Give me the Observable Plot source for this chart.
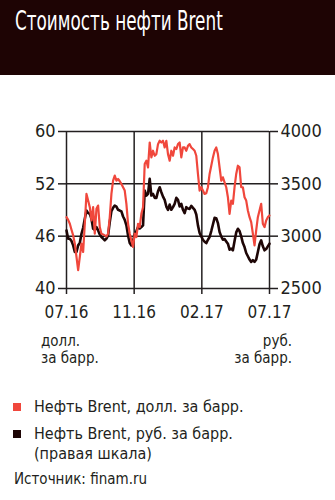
<!DOCTYPE html>
<html>
<head>
<meta charset="utf-8">
<script src="https://cdn.jsdelivr.net/npm/d3@7"></script>
<script src="https://cdn.jsdelivr.net/npm/@observablehq/plot@0.6"></script>
<style>
  html, body { margin: 0; padding: 0; background: #fff; }
  body { width: 335px; height: 500px; overflow: hidden; position: relative;
         font-family: "DejaVu Sans Condensed", "DejaVu Sans", sans-serif; font-stretch: condensed; color: #231f20; }
  #head { height: 75px; background: #1e0404; position: relative; }
  #head h1 { margin: 0; position: absolute; left: 15px; top: 8px; font-size: 26px; line-height: 26px; font-weight: normal; color: #fff;
             white-space: nowrap; transform: scaleX(0.72); transform-origin: 0 0; }
  #chart { position: absolute; left: 0; top: 75px; }
  .unit { position: absolute; font-size: 15px; line-height: 18px; color: #231f20; white-space: nowrap; }
  .leg { position: absolute; left: 13px; font-size: 16px; line-height: 20px; }
  .sw { position: absolute; left: 0; width: 8px; height: 8px; }
  .leg span.t { position: absolute; left: 21px; white-space: nowrap; }
  #src { position: absolute; left: 14px; top: 470px; font-size: 15px; }
</style>
</head>
<body>
<div id="head"><h1>Стоимость нефти Brent</h1></div>
<div id="chart"></div>
<div class="unit" style="left:41px;top:332px;">долл.</div>
<div class="unit" style="left:41px;top:349px;">за барр.</div>
<div class="unit" style="right:43px;top:332px;text-align:right;">руб.</div>
<div class="unit" style="right:43px;top:349px;text-align:right;">за барр.</div>
<div class="leg" style="top:397px;"><div class="sw" style="background:#f0473c;top:6px;"></div><span class="t">Нефть Brent, долл. за барр.</span></div>
<div class="leg" style="top:424px;"><div class="sw" style="background:#1e0606;top:6px;"></div><span class="t">Нефть Brent, руб. за барр.<br>(правая шкала)</span></div>
<div id="src">Источник: finam.ru</div>
<script>
// x tick labels (evenly spaced along the series)
const xLabels = ["07.16", "11.16", "02.17", "07.17"];
// left axis labels (dollars) and right axis labels (rubles)
const leftLabels = ["40", "46", "52", "60"];
const rightLabels = ["2500", "3000", "3500", "4000"];

// Brent, USD per barrel
const usd = [
  49.09, 48.75, 48.25, 47.48, 46.77, 45.71, 44.02, 42.33, 44.02, 45.71,
  44.65, 48.25, 52.05, 51.20, 50.36, 48.67, 50.36, 46.98, 50.15, 50.57,
  47.82, 46.98, 46.89, 46.77, 46.64, 46.98, 49.09, 52.05, 53.74, 54.38,
  53.74, 53.95, 53.66, 53.32, 52.90, 52.47, 50.78, 48.25, 46.98, 46.13,
  45.29, 46.98, 46.55, 48.25, 47.82, 49.51, 50.36, 55.86, 56.28, 55.43,
  58.60, 56.70, 57.55, 56.91, 57.12, 58.39, 58.82, 58.60, 58.82, 57.97,
  58.82, 57.12, 56.28, 57.55, 56.91, 57.97, 57.76, 58.39, 58.60, 56.70,
  57.97, 57.97, 57.55, 58.18, 58.39, 57.97, 57.76, 57.55, 56.91, 54.59,
  52.47, 52.90, 52.47, 52.05, 52.14, 52.90, 54.59, 55.64, 56.70, 57.55,
  57.97, 57.12, 55.43, 53.74, 54.16, 53.53, 52.90, 51.63, 49.51, 51.20,
  50.78, 52.90, 54.59, 55.64, 55.43, 52.90, 52.90, 51.63, 51.20, 49.94,
  49.09, 48.46, 46.98, 45.50, 47.40, 49.09, 49.94, 50.78, 48.25, 47.82,
  48.67, 49.09, 49.30
];
// Brent, RUB per barrel (right scale)
const rub = [
  3055, 2976, 2976, 2953, 2912, 2849, 2849, 2912, 2934, 3023,
  3080, 3166, 3245, 3220, 3214, 3166, 3071, 3061, 3087, 3055,
  3017, 2992, 2976, 2960, 2976, 3007, 3134, 3239, 3271, 3293,
  3283, 3252, 3245, 3236, 3188, 3156, 3103, 3007, 2934, 2912,
  2953, 3017, 3049, 3087, 3074, 3087, 3103, 3436, 3388, 3404,
  3547, 3388, 3404, 3366, 3366, 3429, 3467, 3420, 3378, 3347,
  3283, 3252, 3302, 3252, 3277, 3309, 3366, 3347, 3283, 3309,
  3252, 3220, 3277, 3264, 3261, 3290, 3271, 3252, 3207, 3103,
  3030, 2998, 2966, 2947, 2934, 2966, 2992, 3049, 3112, 3175,
  3172, 3125, 3039, 2998, 2966, 2973, 2950, 2928, 2871, 2881,
  2865, 2953, 3036, 3071, 3049, 2998, 2934, 2896, 2839, 2808,
  2776, 2754, 2770, 2754, 2776, 2849, 2922, 2960, 2903, 2865,
  2877, 2903, 2928
];

const n = usd.length;
const xTicks = xLabels.map((_, i) => i * (n - 1) / (xLabels.length - 1));
const yTicks = leftLabels.map((_, i) => 40 + i * 20 / (leftLabels.length - 1));
const rubToLeft = d3.scaleLinear().domain([+rightLabels[0], +rightLabels[rightLabels.length - 1]]).range([40, 60]);

const usdData = usd.map((v, i) => ({i, v}));
const rubData = rub.map((v, i) => ({i, v: rubToLeft(v)}));

const ink = "#231f20";
const font = '"DejaVu Sans Condensed", "DejaVu Sans", sans-serif';
const chart = Plot.plot({
  width: 335,
  height: 255,
  marginTop: 56,
  marginBottom: 42,
  marginLeft: 66,
  marginRight: 66,
  style: {fontFamily: font, fontSize: "18px", color: ink, background: "transparent"},
  x: {domain: [0, n - 1]},
  y: {domain: [40, 60]},
  marks: [
    Plot.gridX(xTicks, {stroke: ink, strokeOpacity: 1, strokeWidth: 1.5}),
    Plot.gridY(yTicks, {stroke: ink, strokeOpacity: 1, strokeWidth: 1.5}),
    Plot.axisX(xTicks, {tickSize: 6, tickPadding: 11, tickFormat: (d, k) => xLabels[k], stroke: ink, strokeWidth: 1.5, fontSize: 17, label: null}),
    Plot.axisY(yTicks, {anchor: "left", tickSize: 8, tickPadding: 3, tickFormat: (d, k) => leftLabels[k], stroke: ink, strokeWidth: 1.5, fontSize: 18, label: null}),
    Plot.axisY(yTicks, {anchor: "right", tickSize: 8, tickPadding: 3, tickFormat: (d, k) => rightLabels[k], stroke: ink, strokeWidth: 1.5, fontSize: 18, label: null}),
    Plot.line(rubData, {x: "i", y: "v", stroke: "#1e0606", strokeWidth: 2.6, strokeLinejoin: "round"}),
    Plot.line(usdData, {x: "i", y: "v", stroke: "#f0473c", strokeWidth: 2.2, strokeLinejoin: "round"})
  ]
});
document.getElementById("chart").appendChild(chart);
</script>
</body>
</html>
